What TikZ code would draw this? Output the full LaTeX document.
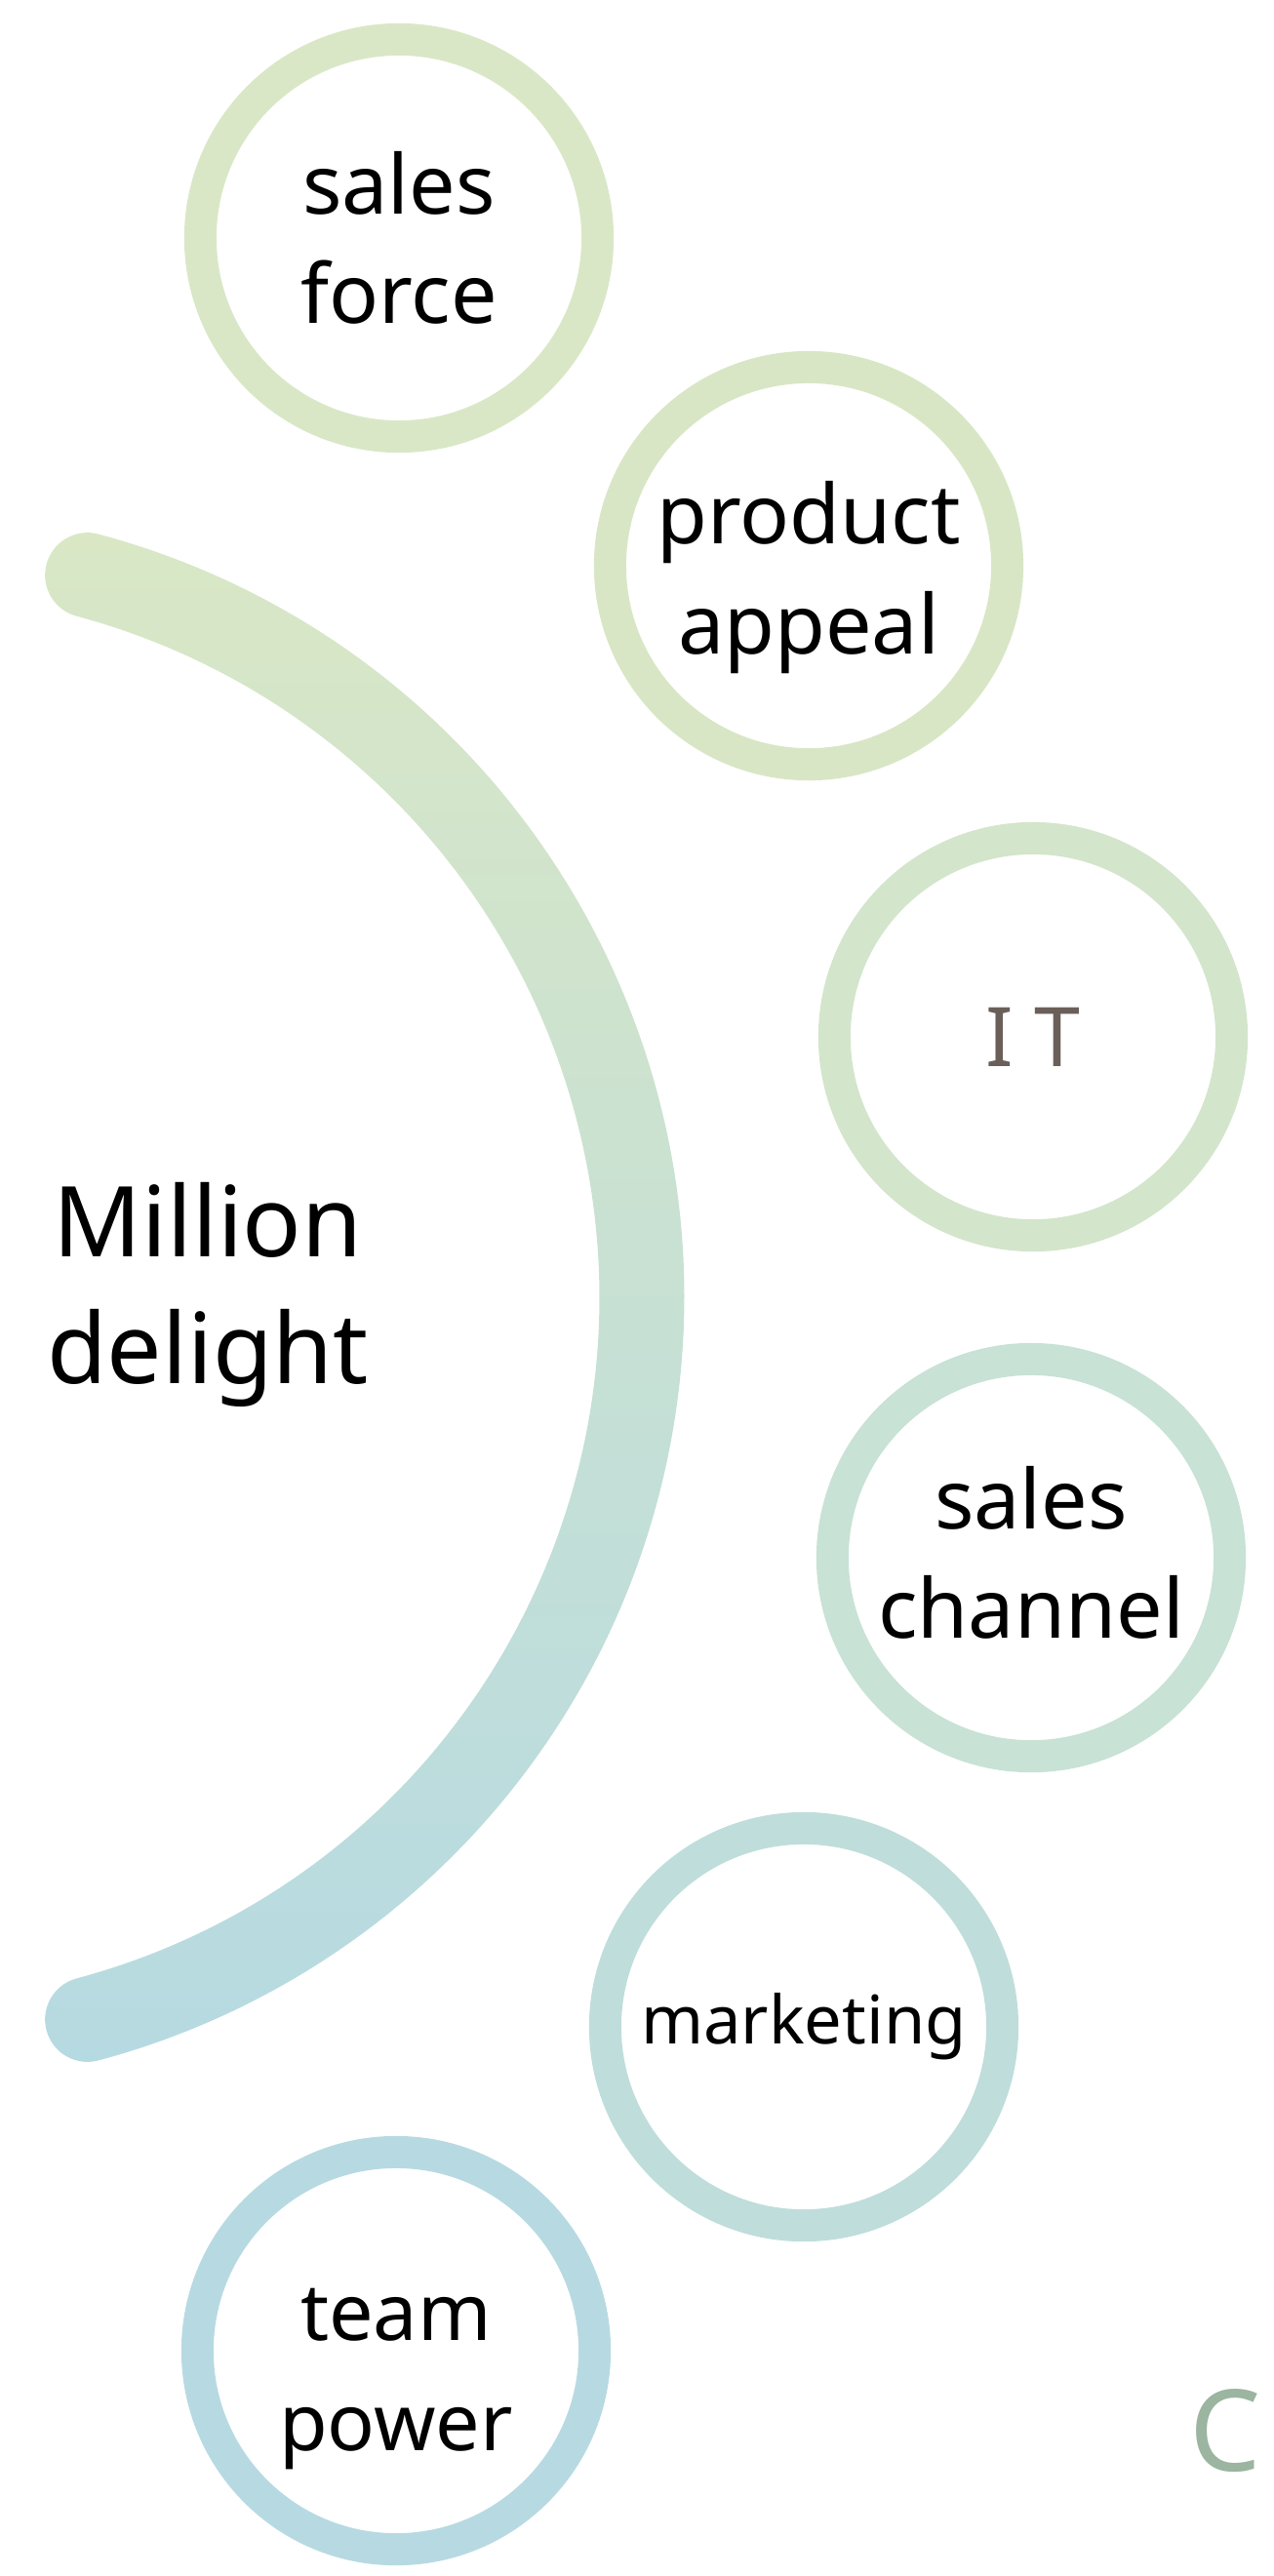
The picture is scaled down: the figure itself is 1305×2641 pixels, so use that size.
\documentclass[tikz,border=0pt]{standalone}
\usepackage{fontspec}
\setmainfont{Noto Sans}
\usetikzlibrary{calc}

\definecolor{arcTop}{HTML}{D9E7C5}
\definecolor{arcMid}{HTML}{CFE4CE}
\definecolor{arcBottom}{HTML}{B6DAE2}
\definecolor{ringSalesForce}{HTML}{D9E7C6}
\definecolor{ringProduct}{HTML}{D8E6C5}
\definecolor{ringIT}{HTML}{D3E5CB}
\definecolor{ringChannel}{HTML}{C8E2D5}
\definecolor{ringMarketing}{HTML}{BFDDDB}
\definecolor{ringTeam}{HTML}{B7DAE2}
\definecolor{itGrey}{HTML}{6B5F5A}
\definecolor{cornerGreen}{HTML}{9BB5A0}

\tikzset{
  ring/.style={circle, draw=#1, line width=0.33cm, minimum size=4.07cm, inner sep=0pt},
  ringText/.style={align=center, inner sep=0pt, font=\fontsize{24}{32}\selectfont},
}

\begin{document}
\begin{tikzpicture}[x=0.01cm, y=0.01cm]
    \useasboundingbox (0,0) rectangle (1305,-2641);

    % the big open arc
    \coordinate (arcCentre) at (-108.7,-1330);
    \shade[top color=arcTop, middle color=arcMid, bottom color=arcBottom]
      ($(arcCentre)+(75:810)$) arc[start angle=75, end angle=-75, radius=810]
      arc[start angle=-75, end angle=-255, radius=43.5]
      arc[start angle=-75, end angle=75, radius=723]
      arc[start angle=255, end angle=75, radius=43.5] -- cycle;

    \node[font=\fontsize{28.5}{37}\selectfont, align=center] (millionDelight) at (213,-1327) {Million\\delight};

    % the six rings
    \node[ring=ringSalesForce, label={[ringText]center:sales\\force}] (salesForce) at (409,-244) {};
    \node[ring=ringProduct, label={[ringText, yshift=-0.12cm]center:product\\appeal}] (productAppeal) at (829,-580) {};
    \node[ring=ringIT, label={[ringText, text=itGrey]center:I T}] (it) at (1059,-1063) {};
    \node[ring=ringChannel, label={[ringText, yshift=0.05cm]center:sales\\channel}] (salesChannel) at (1057,-1597) {};
    \node[ring=ringMarketing, label={[ringText, font=\fontsize{19.5}{26}\selectfont]center:marketing}] (marketing) at (824,-2078) {};
    \node[ring=ringTeam, label={[ringText, yshift=-0.29cm, font=\fontsize{23}{32}\selectfont]center:team\\power}] (teamPower) at (406,-2410) {};

    \node[anchor=base west, inner sep=0pt, text=cornerGreen, font=\fontsize{33}{40}\selectfont] (cornerC) at (1219,-2533) {C};
\end{tikzpicture}
\end{document}
